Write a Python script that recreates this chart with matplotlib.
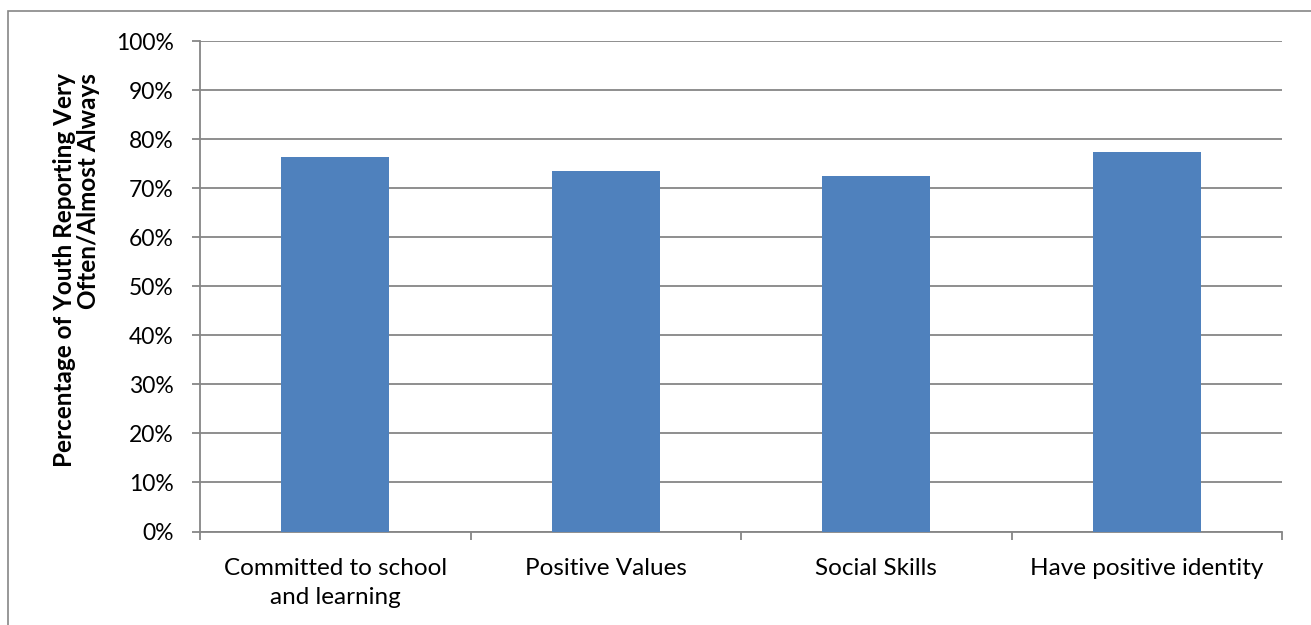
import matplotlib
matplotlib.use("Agg")
from matplotlib import pyplot as plt
from matplotlib.patches import Rectangle
from matplotlib.ticker import PercentFormatter

# survey results: share of youth answering "very often" / "almost always"
categories = ["Committed to school\nand learning", "Positive Values", "Social Skills", "Have positive identity"]
percent_values = [76.3, 73.4, 72.4, 77.3]
y_ticks = [0, 10, 20, 30, 40, 50, 60, 70, 80, 90, 100]

plt.rcParams['font.family'] = ['Lato', 'DejaVu Sans']
grey = "#868686"

fig = plt.figure(figsize=(13.11, 6.25), dpi=100)
ax = fig.add_axes([200 / 1311, 1 - 531.5 / 625, 1082 / 1311, 490.5 / 625])

positions = list(range(len(categories)))
ax.bar(positions, percent_values, width=0.4, color="#4F81BD", zorder=3)

ax.set_xlim(-0.5, len(categories) - 0.5)
ax.set_ylim(0, 100)
ax.set_yticks(y_ticks)
ax.yaxis.set_major_formatter(PercentFormatter(decimals=0))
ax.grid(axis="y", color=grey, linewidth=1.3, zorder=0)

# category labels sit between the boundary ticks
ax.set_xticks([p - 0.5 for p in positions] + [len(categories) - 0.5])
ax.set_xticklabels([])
ax.set_xticks(positions, minor=True)
ax.set_xticklabels(categories, minor=True, fontsize=17.5, color="#000000", linespacing=1.45)
ax.tick_params(axis="x", which="minor", length=0, pad=19)
ax.tick_params(axis="x", which="major", length=6, width=1.3, color=grey, direction="out")
ax.tick_params(axis="y", length=6, width=1.3, color=grey, pad=13, labelsize=16.5)

for side in ["top", "right"]:
    ax.spines[side].set_visible(False)
for side in ["left", "bottom"]:
    ax.spines[side].set_color(grey)
    ax.spines[side].set_linewidth(1.3)

ax.set_ylabel("Percentage of Youth Reporting Very\nOften/Almost Always", fontsize=17.5,
              fontweight="bold", multialignment="right", labelpad=11, linespacing=1.1,
              y=0.533)

# thin frame round the whole chart
fig.patches.append(Rectangle((8 / 1311, -0.1), 1.2, 1.1 - 11 / 625, transform=fig.transFigure,
                             fill=False, edgecolor=grey, linewidth=1.2))

plt.savefig("out.png", dpi=100)
